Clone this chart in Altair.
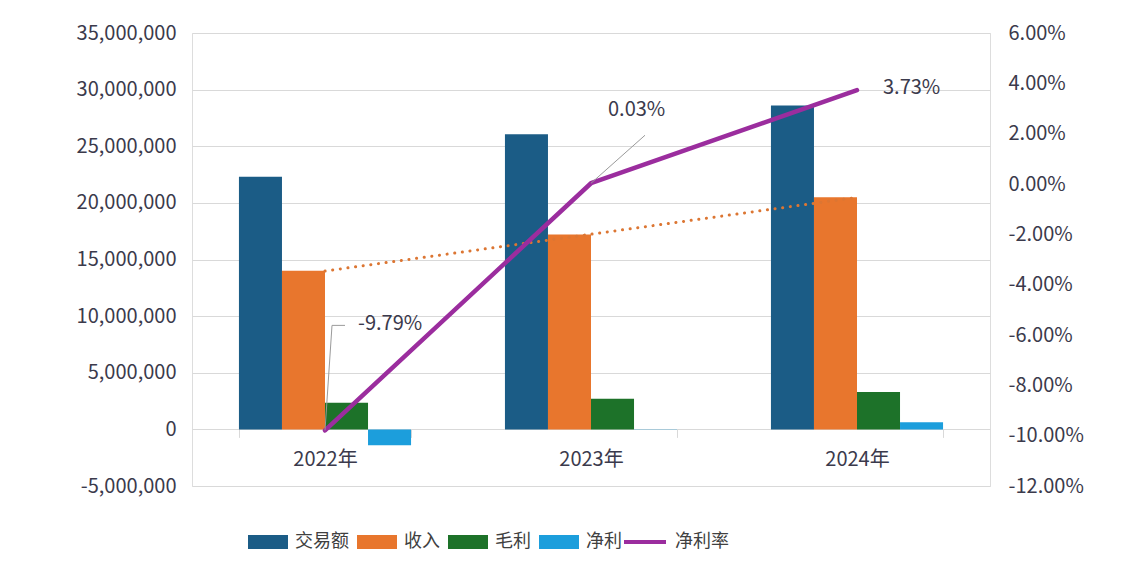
import altair as alt
import pandas as pd

# ---- data ----
years = ["2022年", "2023年", "2024年"]
year_nums = [2022, 2023, 2024]
metrics = ["交易额", "收入", "毛利", "净利"]
trade = [22_300_000, 26_050_000, 28_600_000]
revenue = [14_000_000, 17_200_000, 20_500_000]
gross = [2_360_000, 2_710_000, 3_290_000]
net = [-1_400_000, 5_000, 640_000]
net_rate = [-0.0979, 0.0003, 0.0373]
rate_labels = ["-9.79%", "0.03%", "3.73%"]
left_ticks = [-5_000_000, 0, 5_000_000, 10_000_000, 15_000_000,
              20_000_000, 25_000_000, 30_000_000, 35_000_000]
right_ticks = [-0.12, -0.10, -0.08, -0.06, -0.04, -0.02, 0.0, 0.02, 0.04, 0.06]

colors = ["#1B5C86", "#E8762D", "#1D7229", "#1C9EDC"]
line_color = "#9B2D9E"
trend_color = "#DC7633"
text_color = "#3B3A4C"
grid_color = "#D9D9D9"
FONT = "Noto Sans CJK SC"

bars_df = pd.DataFrame(
    [{"年份": y, "指标": m, "数值": v}
     for m, vals in zip(metrics, [trade, revenue, gross, net])
     for y, v in zip(years, vals)]
)
rev_df = pd.DataFrame({"年号": year_nums, "数值": revenue})
rate_df = pd.DataFrame({"年份": years, "净利率": net_rate, "标签": rate_labels})

W, H = 798, 453

x_enc = alt.X(
    "年份:N", sort=years,
    scale=alt.Scale(domain=years, paddingInner=0.353, paddingOuter=0.1765),
    axis=alt.Axis(title=None, labelAngle=0, offset=-56.6, tickBand="extent",
                  tickSize=8, tickColor=grid_color, domain=False, grid=False,
                  labelPadding=12, labelFontSize=20, labelColor=text_color,
                  labelFont=FONT),
)

y_left_scale = alt.Scale(domain=[-5_000_000, 35_000_000], nice=False, zero=False)
left_axis = alt.Axis(title=None, values=left_ticks,
                     labelExpr="replace(format(datum.value, ','), '−', '-')",
                     grid=True, gridColor=grid_color, gridWidth=1, ticks=False,
                     domain=False, labelPadding=16, labelFontSize=20,
                     labelColor=text_color, labelFont=FONT)

bars = alt.Chart(bars_df).mark_bar(strokeWidth=0).encode(
    x=x_enc,
    xOffset=alt.XOffset("指标:N", sort=metrics,
                        scale=alt.Scale(domain=metrics, paddingInner=0, paddingOuter=0)),
    y=alt.Y("数值:Q", scale=y_left_scale, axis=left_axis),
    fill=alt.Fill("指标:N", sort=metrics,
                  scale=alt.Scale(domain=metrics, range=colors),
                  legend=alt.Legend(title=None, orient="none", legendX=56, legendY=489,
                                    direction="horizontal",
                                    symbolType="M-1,-0.35L1,-0.35L1,0.35L-1,0.35Z",
                                    symbolSize=1600, symbolStrokeWidth=0,
                                    labelFontSize=18, labelFont=FONT,
                                    labelColor="#404040", labelOffset=7,
                                    columnPadding=8, padding=0)),
)

trend = alt.Chart(rev_df).transform_regression(
    "年号", "数值", method="linear"
).transform_calculate(
    年份="toString(datum['年号']) + '年'"
).mark_line(color=trend_color, strokeDash=[0.1, 7.6], strokeWidth=3,
            strokeCap="round").encode(
    x=alt.X("年份:N", sort=years),
    y=alt.Y("数值:Q", scale=y_left_scale, axis=left_axis),
)

left_layer = alt.layer(bars, trend)

y_right_scale = alt.Scale(domain=[-0.12, 0.06], nice=False, zero=False)
right_axis = alt.Axis(title=None, orient="right", values=right_ticks,
                      labelExpr="replace(format(datum.value, '.2%'), '−', '-')",
                      grid=False, ticks=False, domain=False, labelPadding=18,
                      labelFontSize=20, labelColor=text_color, labelFont=FONT)

line = alt.Chart(rate_df).transform_calculate(系列="'净利率'").mark_line(
    strokeWidth=4.5, strokeCap="round", strokeJoin="round"
).encode(
    x=alt.X("年份:N", sort=years),
    y=alt.Y("净利率:Q", scale=y_right_scale, axis=right_axis),
    stroke=alt.Stroke("系列:N", scale=alt.Scale(domain=["净利率"], range=[line_color]),
                      legend=alt.Legend(title=None, orient="none", legendX=430, legendY=486,
                                        symbolType="stroke", symbolSize=1764,
                                        symbolStrokeWidth=4, labelFontSize=18,
                                        labelFont=FONT, labelColor="#404040",
                                        labelOffset=7, padding=0)),
)

rate_base = alt.Chart(rate_df)
pos = dict(x=alt.X("年份:N", sort=years, bandPosition=0.5),
           y=alt.Y("净利率:Q", scale=y_right_scale, axis=right_axis))
pos2 = dict(x2=alt.X2("年份:N", bandPosition=0.5), y2=alt.Y2("净利率:Q"))

lead_a = rate_base.transform_filter(alt.datum["年份"] == years[0]).mark_rule(
    color="#9A9A9A", strokeWidth=1, x2Offset=7, y2Offset=-105).encode(**pos, **pos2)
lead_b = rate_base.transform_filter(alt.datum["年份"] == years[0]).mark_rule(
    color="#9A9A9A", strokeWidth=1, xOffset=7, yOffset=-105,
    x2Offset=20, y2Offset=-105).encode(**pos, **pos2)
lead_c = rate_base.transform_filter(alt.datum["年份"] == years[1]).mark_rule(
    color="#9A9A9A", strokeWidth=1, x2Offset=54, y2Offset=-48).encode(**pos, **pos2)

label_style = dict(align="left", baseline="middle", fontSize=20, font=FONT,
                   color=text_color)
lab_a = rate_base.transform_filter(alt.datum["年份"] == years[0]).mark_text(
    dx=33, dy=-106, **label_style).encode(**pos, text="标签:N")
lab_b = rate_base.transform_filter(alt.datum["年份"] == years[1]).mark_text(
    dx=17, dy=-73, **label_style).encode(**pos, text="标签:N")
lab_c = rate_base.transform_filter(alt.datum["年份"] == years[2]).mark_text(
    dx=26, dy=-2, **label_style).encode(**pos, text="标签:N")

right_layer = alt.layer(line, lead_a, lead_b, lead_c, lab_a, lab_b, lab_c)

chart = alt.layer(left_layer, right_layer).resolve_scale(
    y="independent"
).properties(
    width=W, height=H,
    autosize=alt.AutoSizeParams(type="none"),
    padding={"left": 184, "top": 25, "right": 138, "bottom": 84},
).configure_view(
    stroke="#2A5783", strokeWidth=1.5
).configure(background="white")

chart.save("out.html", embed_options={"renderer": "svg", "actions": False})
